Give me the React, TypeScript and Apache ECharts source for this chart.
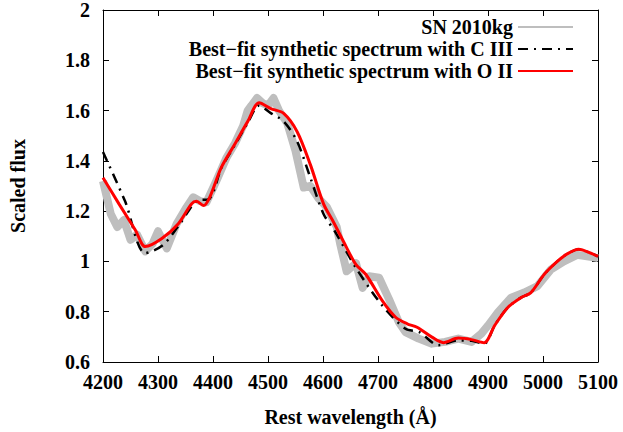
import React, { useEffect, useRef } from "react";
import * as echarts from "echarts";

const xTicks = [4200, 5100, 100];
const yTicks = [0.6, 2, 0.2];

const observedWl = [4200, 4214, 4226, 4238, 4250, 4262, 4277, 4290, 4300, 4316, 4334, 4352, 4364, 4376, 4388, 4406, 4424, 4440, 4455, 4463, 4470, 4480, 4490, 4500, 4510, 4520, 4535, 4550, 4565, 4577, 4592, 4607, 4625, 4631, 4643, 4660, 4672, 4684, 4702, 4720, 4738, 4750, 4774, 4798, 4822, 4846, 4870, 4888, 4900, 4918, 4942, 4966, 4990, 5014, 5038, 5062, 5080, 5100];
const observedFlux = [1.32, 1.19, 1.137, 1.165, 1.086, 1.106, 1.04, 1.07, 1.12, 1.052, 1.15, 1.216, 1.255, 1.24, 1.235, 1.32, 1.41, 1.47, 1.54, 1.6, 1.62, 1.65, 1.63, 1.62, 1.65, 1.6, 1.55, 1.44, 1.294, 1.3, 1.25, 1.216, 1.137, 1.072, 0.961, 0.993, 0.895, 0.941, 0.935, 0.85, 0.758, 0.719, 0.693, 0.673, 0.68, 0.693, 0.68, 0.713, 0.745, 0.797, 0.856, 0.876, 0.902, 0.967, 1.0, 1.026, 1.02, 1.013];

const ciiiWl = [4200, 4240, 4277, 4309, 4340, 4370, 4394, 4415, 4439, 4463, 4484, 4505, 4529, 4553, 4577, 4601, 4624, 4660, 4708, 4750, 4775, 4810, 4846, 4870, 4893, 4912, 4936, 4960, 4978, 5002, 5026, 5044, 5065, 5080, 5100];
const ciiiFlux = [1.435, 1.24, 1.033, 1.065, 1.15, 1.24, 1.25, 1.37, 1.46, 1.55, 1.62, 1.59, 1.556, 1.477, 1.333, 1.189, 1.111, 0.974, 0.824, 0.732, 0.719, 0.667, 0.686, 0.684, 0.673, 0.745, 0.817, 0.856, 0.876, 0.948, 1.0, 1.03, 1.048, 1.039, 1.02];

const oiiWl = [4200, 4229, 4259, 4277, 4307, 4337, 4361, 4370, 4383, 4394, 4415, 4439, 4463, 4484, 4505, 4529, 4553, 4577, 4601, 4619, 4642, 4660, 4678, 4708, 4732, 4753, 4771, 4798, 4819, 4846, 4870, 4893, 4912, 4936, 4960, 4978, 5002, 5026, 5044, 5065, 5080, 5100];
const oiiFlux = [1.333, 1.229, 1.124, 1.059, 1.091, 1.15, 1.229, 1.239, 1.222, 1.255, 1.373, 1.464, 1.556, 1.631, 1.608, 1.588, 1.516, 1.385, 1.229, 1.157, 1.059, 0.987, 0.948, 0.843, 0.778, 0.752, 0.738, 0.699, 0.677, 0.695, 0.689, 0.677, 0.745, 0.817, 0.856, 0.876, 0.948, 1.0, 1.03, 1.048, 1.039, 1.02];

const seriesNames = [
  "SN 2010kg",
  "Best\u2212fit synthetic spectrum with C III",
  "Best\u2212fit synthetic spectrum with O II",
];

const zip = (xs: number[], ys: number[]) => xs.map((x, i) => [x, ys[i]]);

const FONT = "'Liberation Serif', 'Times New Roman', serif";

export default function App() {
  const ref = useRef<HTMLDivElement>(null);
  useEffect(() => {
    if (!ref.current) return;
    const chart = echarts.init(ref.current, null, { renderer: "svg" });
    const labelStyle = { fontFamily: FONT, fontWeight: "bold" as const, fontSize: 20, color: "#000" };
    const frameAxis = {
      axisLine: { show: true, lineStyle: { color: "#000", width: 1 } },
      axisTick: { show: true, inside: true, length: 6, lineStyle: { color: "#000" } },
      splitLine: { show: false },
    };
    chart.setOption({
      animation: false,
      backgroundColor: "#fff",
      grid: { left: 97, right: 25, top: 10, bottom: 65, containLabel: false },
      legend: {
        orient: "vertical",
        right: 49,
        top: 17,
        align: "right",
        itemWidth: 55,
        itemHeight: 14,
        itemGap: 2,
        padding: 0,
        itemStyle: { opacity: 0 },
        textStyle: { ...labelStyle, padding: [0, 0, 0, 0] },
        data: seriesNames,
      },
      xAxis: [
        {
          type: "value",
          min: xTicks[0],
          max: xTicks[1],
          interval: xTicks[2],
          name: "Rest wavelength (\u00C5)",
          nameLocation: "middle",
          nameGap: 45,
          nameTextStyle: { ...labelStyle },
          axisLabel: { ...labelStyle, margin: 10, formatter: (v: number) => String(v) },
          ...frameAxis,
        },
        {
          type: "value",
          position: "top",
          min: xTicks[0],
          max: xTicks[1],
          interval: xTicks[2],
          axisLabel: { show: false },
          ...frameAxis,
        },
      ],
      yAxis: [
        {
          type: "value",
          min: yTicks[0],
          max: yTicks[1],
          interval: yTicks[2],
          name: "Scaled flux",
          nameLocation: "middle",
          nameGap: 75,
          nameTextStyle: { ...labelStyle },
          axisLabel: { ...labelStyle, margin: 13, formatter: (v: number) => String(Math.round(v * 10) / 10) },
          ...frameAxis,
        },
        {
          type: "value",
          position: "right",
          min: yTicks[0],
          max: yTicks[1],
          interval: yTicks[2],
          axisLabel: { show: false },
          ...frameAxis,
        },
      ],
      series: [
        {
          name: seriesNames[0],
          type: "line",
          data: zip(observedWl, observedFlux),
          symbol: "none",
          lineStyle: { color: "#bebebe", width: 8, join: "round" },
          itemStyle: { color: "#bebebe" },
          z: 1,
        },
        {
          name: seriesNames[1],
          type: "line",
          data: zip(ciiiWl, ciiiFlux),
          symbol: "none",
          smooth: 0.3,
          lineStyle: { color: "#000", width: 2.5, type: [10, 6, 2, 6] },
          itemStyle: { color: "#000" },
          z: 2,
        },
        {
          name: seriesNames[2],
          type: "line",
          data: zip(oiiWl, oiiFlux),
          symbol: "none",
          smooth: 0.3,
          lineStyle: { color: "#ff0000", width: 3 },
          itemStyle: { color: "#ff0000" },
          z: 3,
        },
      ],
    });
    return () => chart.dispose();
  }, []);
  return (
    <div
      ref={ref}
      style={{ position: "absolute", left: 0, top: 0, width: 623, height: 432 }}
    />
  );
}
